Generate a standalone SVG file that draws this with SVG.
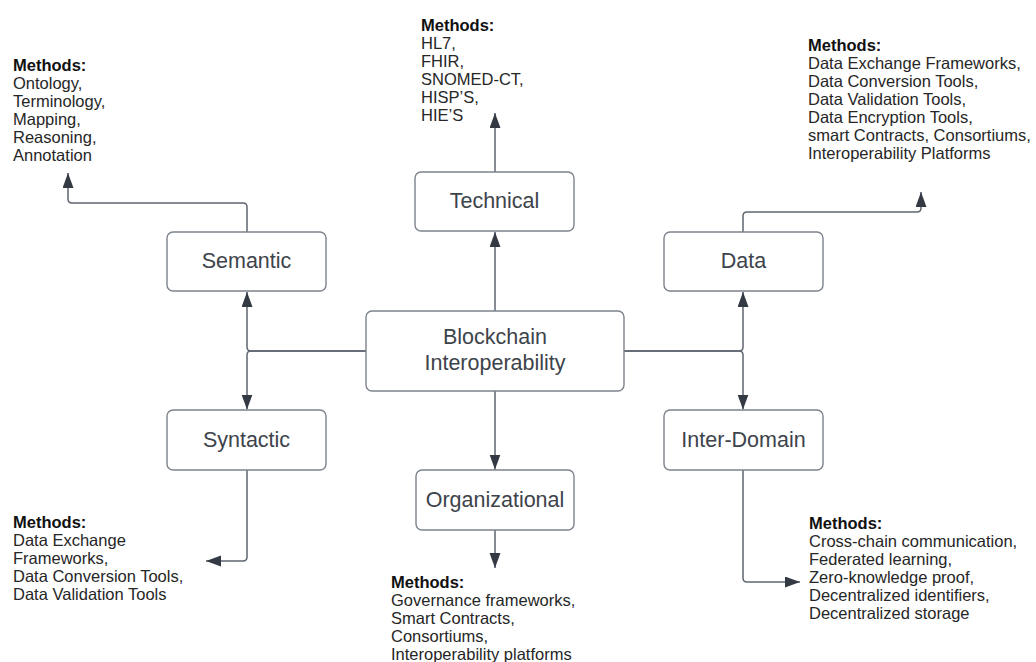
<svg xmlns="http://www.w3.org/2000/svg" width="1036" height="662" viewBox="0 0 1036 662">
<style>
.box{fill:#fff;stroke:#7d838c;stroke-width:1.4}
.lbl{font-family:"Liberation Sans",Arial,sans-serif;font-size:21.5px;fill:#3d434b;text-anchor:middle}
.con{fill:none;stroke:#5f6670;stroke-width:1.5}
.m{font-family:"Liberation Sans",Arial,sans-serif;font-size:16.5px;fill:#262626}
.b{font-weight:bold;fill:#111}
</style>
<defs>
<marker id="ah" markerUnits="userSpaceOnUse" markerWidth="16" markerHeight="12" refX="15" refY="5.5" orient="auto">
<path d="M0,0 L15,5.5 L0,11 z" fill="#333a44"/>
</marker>
</defs>
<rect width="1036" height="662" fill="#fff"/>
<g id="connectors">
<path class="con" d="M366,351 H251 Q247,351 247,347 V292" marker-end="url(#ah)"/>
<path class="con" d="M366,351 H251 Q247,351 247,355 V409.5" marker-end="url(#ah)"/>
<path class="con" d="M624,351 H739 Q743,351 743,347 V292" marker-end="url(#ah)"/>
<path class="con" d="M624,351 H739 Q743,351 743,355 V409.5" marker-end="url(#ah)"/>
<path class="con" d="M495,311 V232" marker-end="url(#ah)"/>
<path class="con" d="M495,391 V469.5" marker-end="url(#ah)"/>
<path class="con" d="M495,172 V113" marker-end="url(#ah)"/>
<path class="con" d="M247,232 V207 Q247,203 243,203 H72 Q68,203 68,199 V173" marker-end="url(#ah)"/>
<path class="con" d="M743,232 V216 Q743,212 747,212 H917 Q921,212 921,208 V192" marker-end="url(#ah)"/>
<path class="con" d="M247,470 V557 Q247,561 243,561 H206" marker-end="url(#ah)"/>
<path class="con" d="M495,530 V568" marker-end="url(#ah)"/>
<path class="con" d="M743,470 V578 Q743,582 747,582 H800" marker-end="url(#ah)"/>
</g>
<g id="node-blockchain">
<rect class="box" x="366" y="311" width="258" height="80" rx="6"/>
<text class="lbl" x="495" y="344">Blockchain</text>
<text class="lbl" x="495" y="370">Interoperability</text>
</g>
<g id="node-semantic">
<rect class="box" x="167" y="232" width="159" height="59" rx="6"/>
<text class="lbl" x="246.5" y="268">Semantic</text>
</g>
<g id="node-technical">
<rect class="box" x="415" y="172" width="159" height="59" rx="6"/>
<text class="lbl" x="494.5" y="208">Technical</text>
</g>
<g id="node-data">
<rect class="box" x="664" y="232" width="159" height="59" rx="6"/>
<text class="lbl" x="743.5" y="268">Data</text>
</g>
<g id="node-syntactic">
<rect class="box" x="167" y="410" width="159" height="60" rx="6"/>
<text class="lbl" x="246.5" y="447">Syntactic</text>
</g>
<g id="node-organizational">
<rect class="box" x="416" y="470" width="158" height="60" rx="6"/>
<text class="lbl" x="495" y="507">Organizational</text>
</g>
<g id="node-interdomain">
<rect class="box" x="664" y="410" width="159" height="60" rx="6"/>
<text class="lbl" x="743.5" y="447">Inter-Domain</text>
</g>
<g id="methods-semantic" class="m">
<text x="13" y="71" class="m b">Methods:</text>
<text x="13" y="89" class="m">Ontology,</text>
<text x="13" y="107" class="m">Terminology,</text>
<text x="13" y="125" class="m">Mapping,</text>
<text x="13" y="143" class="m">Reasoning,</text>
<text x="13" y="161" class="m">Annotation</text>
</g>
<g id="methods-technical">
<text x="421" y="31" class="m b">Methods:</text>
<text x="421" y="49" class="m">HL7,</text>
<text x="421" y="67" class="m">FHIR,</text>
<text x="421" y="85" class="m">SNOMED-CT,</text>
<text x="421" y="103" class="m">HISP’S,</text>
<text x="421" y="121" class="m">HIE’S</text>
</g>
<g id="methods-data">
<text x="808" y="51" class="m b">Methods:</text>
<text x="808" y="69" class="m">Data Exchange Frameworks,</text>
<text x="808" y="87" class="m">Data Conversion Tools,</text>
<text x="808" y="105" class="m">Data Validation Tools,</text>
<text x="808" y="123" class="m">Data Encryption Tools,</text>
<text x="808" y="141" class="m">smart Contracts, Consortiums,</text>
<text x="808" y="159" class="m">Interoperability Platforms</text>
</g>
<g id="methods-syntactic">
<text x="13" y="528" class="m b">Methods:</text>
<text x="13" y="546" class="m">Data Exchange</text>
<text x="13" y="564" class="m">Frameworks,</text>
<text x="13" y="582" class="m">Data Conversion Tools,</text>
<text x="13" y="600" class="m">Data Validation Tools</text>
</g>
<g id="methods-organizational">
<text x="391" y="588" class="m b">Methods:</text>
<text x="391" y="606" class="m">Governance frameworks,</text>
<text x="391" y="624" class="m">Smart Contracts,</text>
<text x="391" y="642" class="m">Consortiums,</text>
<text x="391" y="660" class="m">Interoperability platforms</text>
</g>
<g id="methods-interdomain">
<text x="809" y="529" class="m b">Methods:</text>
<text x="809" y="547" class="m">Cross-chain communication,</text>
<text x="809" y="565" class="m">Federated learning,</text>
<text x="809" y="583" class="m">Zero-knowledge proof,</text>
<text x="809" y="601" class="m">Decentralized identifiers,</text>
<text x="809" y="619" class="m">Decentralized storage</text>
</g>
</svg>
